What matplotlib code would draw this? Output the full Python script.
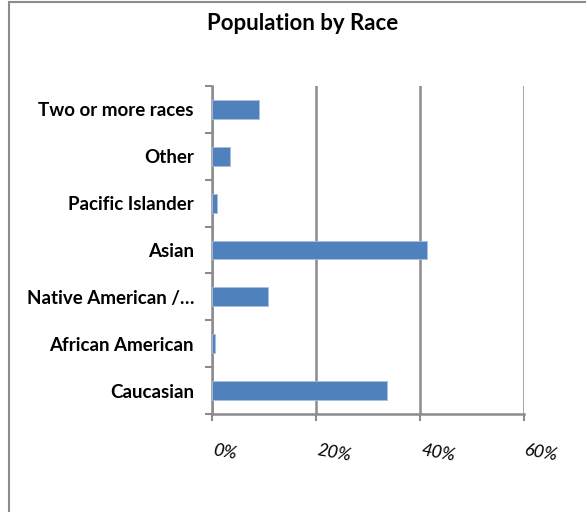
import matplotlib.pyplot as plt
from matplotlib.patches import Rectangle
from matplotlib.ticker import FuncFormatter

races = ["Caucasian", "African American", "Native American /\u2026", "Asian",
         "Pacific Islander", "Other", "Two or more races"]
share = [33.6, 0.5, 10.8, 41.3, 1.0, 3.5, 9.0]
xticks = [0, 20, 40, 60]

plt.rcParams['font.family'] = ['Lato', 'DejaVu Sans']

fig = plt.figure(figsize=(5.86, 5.12), dpi=100)
ax = fig.add_axes([0.3618, 0.1914, 0.894 - 0.3618, 0.832 - 0.1914])

# chart frame (cut off on right and bottom as in the source)
fig.patches.append(Rectangle((9 / 586, -0.1), 1.2, (510 / 512) + 0.1, transform=fig.transFigure,
                             fill=False, edgecolor='#8c8c8c', linewidth=1.5))

ax.barh(range(len(races)), share, height=0.4, color='#4f81bd',
        edgecolor='#a9c0e0', linewidth=0.6, zorder=3)

ax.set_xlim(0, 60)
ax.set_ylim(-0.5, len(races) - 0.5)
ax.set_xticks(xticks)
ax.xaxis.set_major_formatter(FuncFormatter(lambda v, p: f"{v:.0f}%"))
ax.set_yticks([i - 0.5 for i in range(len(races) + 1)], minor=False)
ax.set_yticklabels([])
ax.set_yticks(range(len(races)), minor=True)
ax.set_yticklabels(races, minor=True, fontsize=13.5, fontweight='bold')
ax.tick_params(axis='y', which='minor', length=0, pad=13)
ax.tick_params(axis='y', which='major', length=5, width=1.5, color='#8c8c8c', direction='out')
ax.tick_params(axis='x', length=5, width=1.5, color='#8c8c8c', direction='out', pad=15, labelsize=13)
for lbl in ax.get_xticklabels():
    lbl.set_rotation(-10)
    lbl.set_style('italic')
    lbl.set_ha('left')

ax.grid(axis='x', color='#8c8c8c', linewidth=1.8, zorder=0)
for s in ['top', 'right']:
    ax.spines[s].set_visible(False)
for s in ['left', 'bottom']:
    ax.spines[s].set_color('#8c8c8c')
    ax.spines[s].set_linewidth(1.8)

fig.text(0.516, 0.955, "Population by Race", ha='center', va='center',
         fontsize=16, fontweight='bold')

fig.savefig("out.png", dpi=100)
